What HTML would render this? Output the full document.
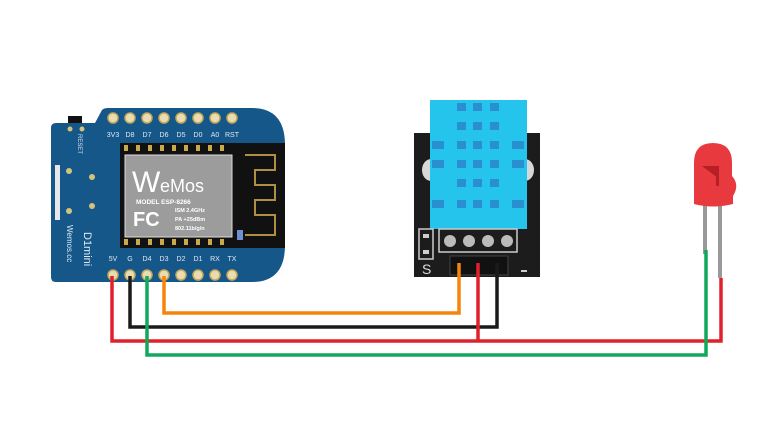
<!DOCTYPE html>
<html><head><meta charset="utf-8"><style>
html,body{margin:0;padding:0;background:#fff;}
svg{display:block;}
text{font-family:"Liberation Sans",sans-serif;}
</style></head><body>
<svg width="781" height="438" viewBox="0 0 781 438" xmlns="http://www.w3.org/2000/svg">
<path d="M51,128 Q51,123 56,123 L95,123 L102,110 Q104,108 108,108 L252,108 Q285,108 285,145 L285,245 Q285,282 252,282 L56,282 Q51,282 51,277 Z" fill="#16578a"/>
<rect x="68" y="116" width="14" height="7" fill="#111"/>
<rect x="55" y="165" width="5" height="55" fill="#e8e8e8"/>
<g fill="#d7c27a"><circle cx="70" cy="129" r="2.5"/><circle cx="82" cy="129" r="2.5"/><circle cx="69" cy="171" r="3"/><circle cx="69" cy="211" r="3"/><circle cx="92" cy="177" r="3"/><circle cx="92" cy="206" r="3"/></g>
<text x="0" y="0" font-size="6" fill="#cfe0f0" transform="translate(78,134) rotate(90)">RESET</text>
<text x="0" y="0" font-size="11" fill="#dfe9f3" transform="translate(84,232) rotate(90)">D1mini</text>
<text x="0" y="0" font-size="8" fill="#dfe9f3" transform="translate(67,225) rotate(90)">Wemos.cc</text>
<rect x="120" y="143" width="165" height="105" fill="#111"/>
<g fill="#c9a94a">
<rect x="124" y="145" width="4" height="6"/><rect x="136" y="145" width="4" height="6"/><rect x="148" y="145" width="4" height="6"/><rect x="160" y="145" width="4" height="6"/><rect x="172" y="145" width="4" height="6"/><rect x="184" y="145" width="4" height="6"/><rect x="196" y="145" width="4" height="6"/><rect x="208" y="145" width="4" height="6"/><rect x="220" y="145" width="4" height="6"/>
<rect x="124" y="239" width="4" height="6"/><rect x="136" y="239" width="4" height="6"/><rect x="148" y="239" width="4" height="6"/><rect x="160" y="239" width="4" height="6"/><rect x="172" y="239" width="4" height="6"/><rect x="184" y="239" width="4" height="6"/><rect x="196" y="239" width="4" height="6"/><rect x="208" y="239" width="4" height="6"/><rect x="220" y="239" width="4" height="6"/>
</g>
<path d="M245,155 L275,155 L275,170 L255,170 L255,185 L275,185 L275,200 L255,200 L255,215 L275,215 L275,235 L245,235" fill="none" stroke="#b09040" stroke-width="2"/>
<rect x="237" y="230" width="6" height="10" fill="#6f8fd0"/>
<rect x="125" y="155" width="107" height="82" fill="#9c9c9c" stroke="#ddd" stroke-width="1"/>
<text x="132" y="192" font-size="30" fill="#fff">W</text>
<text x="160" y="192" font-size="18" fill="#fff">eMos</text>
<text x="136" y="204" font-size="6.5" fill="#fff" font-weight="bold">MODEL  ESP-8266</text>
<text x="133" y="226" font-size="20" fill="#fff" font-weight="bold">FC</text>
<text x="175" y="212" font-size="5.5" fill="#fff" font-weight="bold">ISM 2.4GHz</text>
<text x="175" y="221" font-size="5.5" fill="#fff" font-weight="bold">PA +25dBm</text>
<text x="175" y="230" font-size="5.5" fill="#fff" font-weight="bold">802.11b/g/n</text>
<g fill="#e8dcb0" stroke="#c4a85a" stroke-width="1.5">
<circle cx="113" cy="118" r="5"/><circle cx="130" cy="118" r="5"/><circle cx="147" cy="118" r="5"/><circle cx="164" cy="118" r="5"/><circle cx="181" cy="118" r="5"/><circle cx="198" cy="118" r="5"/><circle cx="215" cy="118" r="5"/><circle cx="232" cy="118" r="5"/>
<circle cx="113" cy="275" r="5"/><circle cx="130" cy="275" r="5"/><circle cx="147" cy="275" r="5"/><circle cx="164" cy="275" r="5"/><circle cx="181" cy="275" r="5"/><circle cx="198" cy="275" r="5"/><circle cx="215" cy="275" r="5"/><circle cx="232" cy="275" r="5"/>
</g>
<g font-size="7" fill="#e0e8f0" text-anchor="middle">
<text x="113" y="137">3V3</text><text x="130" y="137">D8</text><text x="147" y="137">D7</text><text x="164" y="137">D6</text><text x="181" y="137">D5</text><text x="198" y="137">D0</text><text x="215" y="137">A0</text><text x="232" y="137">RST</text>
<text x="113" y="261">5V</text><text x="130" y="261">G</text><text x="147" y="261">D4</text><text x="164" y="261">D3</text><text x="181" y="261">D2</text><text x="198" y="261">D1</text><text x="215" y="261">RX</text><text x="232" y="261">TX</text>
</g>
<rect x="414" y="133" width="126" height="144" fill="#1c1c1c"/>
<ellipse cx="431" cy="170" rx="9" ry="11" fill="#d8d8d8"/><ellipse cx="525" cy="170" rx="9" ry="11" fill="#d8d8d8"/>
<rect x="430" y="100" width="97" height="129" fill="#24c4ec"/>
<g fill="#2a8fd0">
<rect x="457" y="103" width="9" height="8"/><rect x="473" y="103" width="9" height="8"/><rect x="490" y="103" width="9" height="8"/>
<rect x="457" y="122" width="9" height="8"/><rect x="473" y="122" width="9" height="8"/><rect x="490" y="122" width="9" height="8"/>
<rect x="432" y="141" width="12" height="8"/><rect x="457" y="141" width="9" height="8"/><rect x="473" y="141" width="9" height="8"/><rect x="490" y="141" width="9" height="8"/><rect x="512" y="141" width="12" height="8"/>
<rect x="432" y="160" width="12" height="8"/><rect x="457" y="160" width="9" height="8"/><rect x="473" y="160" width="9" height="8"/><rect x="490" y="160" width="9" height="8"/><rect x="512" y="160" width="12" height="8"/>
<rect x="457" y="179" width="9" height="8"/><rect x="473" y="179" width="9" height="8"/><rect x="490" y="179" width="9" height="8"/>
<rect x="432" y="200" width="12" height="8"/><rect x="457" y="200" width="9" height="8"/><rect x="473" y="200" width="9" height="8"/><rect x="490" y="200" width="9" height="8"/><rect x="512" y="200" width="12" height="8"/>
</g>
<rect x="419" y="229" width="14" height="30" fill="none" stroke="#ccc" stroke-width="1.5"/>
<rect x="423" y="234" width="6" height="4" fill="#ccc"/><rect x="423" y="250" width="6" height="4" fill="#ccc"/>
<rect x="439" y="229" width="78" height="23" fill="none" stroke="#ccc" stroke-width="1.5"/>
<g fill="#bbb"><circle cx="450" cy="241" r="6"/><circle cx="469" cy="241" r="6"/><circle cx="488" cy="241" r="6"/><circle cx="507" cy="241" r="6"/></g>
<text x="422" y="274" font-size="14" fill="#ddd">S</text>
<rect x="450" y="256" width="58" height="19" fill="#111" stroke="#444"/>
<rect x="521" y="270" width="6" height="2" fill="#ccc"/>
<rect x="703" y="200" width="4" height="54" fill="#999"/>
<rect x="718" y="200" width="4" height="78" fill="#999"/>
<path d="M694,204 L694,163 Q694,143 713,143 Q732,143 732,163 L732,176 Q740,185 733,196 L733,204 Q713,209 694,204 Z" fill="#e83a3e"/>
<path d="M702,166 L718,166 L718,178 Z" fill="#b51f25"/>
<rect x="716" y="166" width="3" height="20" fill="#b51f25"/>
<g fill="none" stroke-width="3.5">
<path d="M164,276 V313 H459 V263" stroke="#f5830d"/>
<path d="M130,276 V327 H497 V263" stroke="#1a1a1a"/>
<path d="M112,276 V341 H721 V278" stroke="#e0202a"/>
<path d="M478,263 V341" stroke="#e0202a"/>
<path d="M147,276 V355 H706 V250" stroke="#10a85a"/>
</g>
</svg>
</body></html>
